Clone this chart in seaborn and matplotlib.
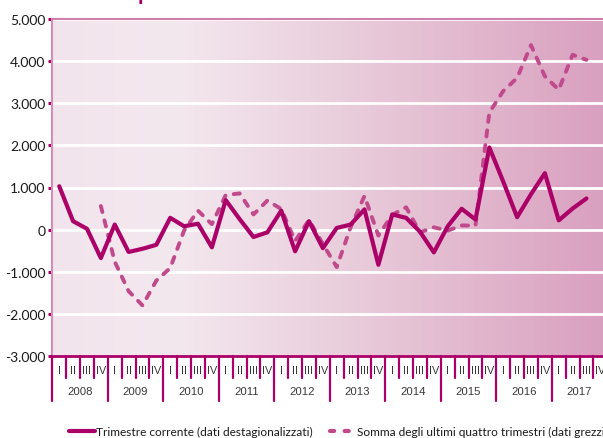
import numpy as np
import pandas as pd
import matplotlib
matplotlib.use("Agg")
import matplotlib.pyplot as plt
import seaborn as sns
from matplotlib.colors import LinearSegmentedColormap
from matplotlib.lines import Line2D

# ---------------- data ----------------
years = [str(y) for y in range(2008, 2018)]
quarters = ["I", "II", "III", "IV"]

trimestre_corrente = [
    1030, 200, 20, -675,        # 2008
    120, -530, -455, -360,      # 2009
    280, 80, 140, -420,         # 2010
    700, 250, -175, -65,        # 2011
    450, -515, 200, -440,       # 2012
    40, 120, 480, -835,         # 2013
    360, 280, -50, -540,        # 2014
    80, 495, 240, 1950,         # 2015
    1140, 295, 840, 1340,       # 2016
    220, 500, 740,              # 2017
]
somma_quattro = [
    np.nan, np.nan, np.nan, 560,  # 2008
    -760, -1460, -1800, -1210,    # 2009
    -910, -20, 450, 130,          # 2010
    820, 860, 360, 690,           # 2011
    490, -270, 230, -340,         # 2012
    -890, 55, 800, -140,          # 2013
    350, 530, -65, 55,            # 2014
    -25, 100, 95, 2780,           # 2015
    3290, 3600, 4380, 3640,       # 2016
    3320, 4150, 4030,             # 2017
]
label_solid = "Trimestre corrente (dati destagionalizzati)"
label_dash = "Somma degli ultimi quattro trimestri (dati grezzi)"

n_q = len(years) * len(quarters)
pos = np.arange(len(trimestre_corrente))
df = pd.DataFrame({
    "pos": np.concatenate([pos, pos]),
    "valore": np.concatenate([trimestre_corrente, somma_quattro]),
    "serie": [label_solid] * len(pos) + [label_dash] * len(pos),
})

# ---------------- style ----------------
sns.set_theme(style="white")
plt.rcParams['font.family'] = ['Lato', 'DejaVu Sans']

MAG = "#AC0069"
DASH = "#C04A8C"

fig = plt.figure(figsize=(6.03, 4.39), dpi=100)
W, H = 603.0, 439.0
ax_left, ax_right, ax_top, ax_bot = 52.3, 607.3, 20.0, 357.0
ax = fig.add_axes([ax_left / W, 1 - ax_bot / H, (ax_right - ax_left) / W, (ax_bot - ax_top) / H])

# gradient background
cmap = LinearSegmentedColormap.from_list(
    "bg", [(0.0, "#F2E4EC"), (0.22, "#F4E8EF"), (0.5, "#EAD0DD"), (0.75, "#E2B8CE"), (1.0, "#D99FBF")])
ax.imshow(np.linspace(0, 1, 256)[None, :], cmap=cmap, aspect="auto",
          extent=[-0.5, n_q - 0.5, -3000, 5000], zorder=0, interpolation="bilinear")

# lines
sns.lineplot(data=df[df.serie == label_dash], x="pos", y="valore", ax=ax, color=DASH,
             lw=2.8, dashes=False, legend=False, zorder=3)
ax.lines[-1].set_dashes((1.6, 2.2))
ax.lines[-1].set_dash_capstyle("round")
sns.lineplot(data=df[df.serie == label_solid], x="pos", y="valore", ax=ax, color=MAG,
             lw=3.0, legend=False, zorder=4)

ax.set_xlim(-0.5, n_q - 0.5)
ax.set_ylim(-3000, 5000)
yt = list(range(-3000, 5001, 1000))
ax.set_yticks(yt)
ax.set_yticklabels([f"{v:,}".replace(",", ".") for v in yt])
ax.grid(axis="y", color="white", lw=2.0)
ax.grid(axis="x", visible=False)
ax.set_axisbelow(True)
ax.set_xticks([])
ax.set_xlabel("")
ax.set_ylabel("")
ax.tick_params(axis="y", which="both", left=True, length=3, width=2.2, color=MAG,
               labelsize=10, labelcolor="#1a1a1a", pad=2)

ax.spines["right"].set_visible(False)
ax.spines["left"].set_color("#D58DB5")
ax.spines["left"].set_linewidth(1.5)
ax.spines["top"].set_color("#D07EAB")
ax.spines["top"].set_linewidth(1.5)
ax.spines["bottom"].set_color(MAG)
ax.spines["bottom"].set_linewidth(2.0)
ax.spines["bottom"].set_zorder(6)

# category axis: quarter labels, year labels, separators
trans = ax.get_xaxis_transform()
axh = ax_bot - ax_top
short_y = -(379 - ax_bot) / axh
long_y = -(402 - ax_bot) / axh
q_lab_y = -(371 - ax_bot) / axh
y_lab_y = -(392 - ax_bot) / axh
narrow = ["Liberation Sans Narrow", "Liberation Sans", "DejaVu Sans"]
for k in range(n_q + 1):
    xb = k - 0.5
    yend = long_y if k % 4 == 0 else short_y
    ax.add_line(Line2D([xb, xb], [0, yend], transform=trans, color=MAG, lw=1.6,
                       clip_on=False, zorder=6))
for yi, yr in enumerate(years):
    for qi, q in enumerate(quarters):
        ax.text(yi * 4 + qi, q_lab_y, q, transform=trans, ha="center", va="center",
                fontsize=7.8, color="#3a3a3a", clip_on=False, family=narrow)
    ax.text(yi * 4 + 1.5, y_lab_y, yr, transform=trans, ha="center", va="center",
            fontsize=8.2, color="#3a3a3a", clip_on=False, family=narrow)

# legend (drawn by hand to match the reference spacing)
ly = 1 - 432 / H
fig.add_artist(Line2D([69 / W, 95 / W], [ly, ly], transform=fig.transFigure, color=MAG,
                      lw=3.0, solid_capstyle="round"))
fig.text(96.5 / W, ly, label_solid, transform=fig.transFigure, va="center", ha="left",
         fontsize=8.6, color="#1a1a1a")
fig.add_artist(Line2D([330 / W, 350 / W], [ly, ly], transform=fig.transFigure, color=DASH,
                      lw=3.0, dashes=(1.0, 2.5), dash_capstyle="round"))
fig.text(357 / W, ly, label_dash, transform=fig.transFigure, va="center", ha="left",
         fontsize=8.6, color="#1a1a1a")

# cut-off title descender
fig.text(138 / W, 1.0, "p", color=MAG, fontsize=16, fontweight="bold", va="baseline", ha="left")

fig.savefig("out.png", dpi=100)
